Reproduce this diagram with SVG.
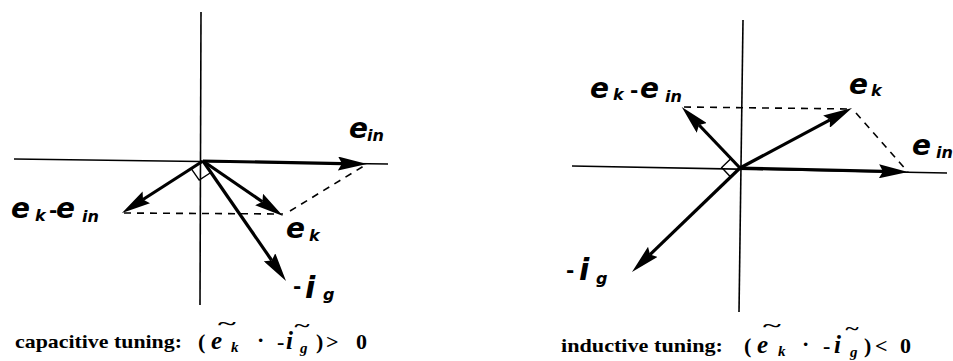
<svg xmlns="http://www.w3.org/2000/svg" width="953" height="361" viewBox="0 0 953 361">
<style>
.axis{stroke:#000;stroke-width:1.6;fill:none}
.vec{stroke:#000;stroke-width:3.2;fill:none;marker-end:url(#ah)}
.dash{stroke:#000;stroke-width:1.6;fill:none;stroke-dasharray:7 6}
.sq{stroke:#000;stroke-width:1.4;fill:none}
.lbl{font-family:"DejaVu Sans",sans-serif;font-weight:bold;font-style:italic;font-size:28px;fill:#000}
.sub{font-size:16px}
.dsh{font-style:normal;font-size:20px}
.cap{font-family:"Liberation Serif",serif;font-weight:bold;font-size:19px;fill:#000}
.mth{font-family:"Liberation Serif",serif;font-weight:bold;font-size:22px;fill:#000}
.mi{font-style:italic;font-size:25px}
.ms{font-size:15px;font-style:italic}
.tl{font-family:"Liberation Serif",serif;font-weight:bold;font-size:18px;fill:#000;text-anchor:middle}
</style>
<defs>
<marker id="ah" markerUnits="userSpaceOnUse" markerWidth="30" markerHeight="14" refX="4" refY="7" orient="auto">
<path d="M0,0 L29,7 L0,14 L4,7 Z" fill="#000"/>
</marker>
</defs>

<g id="left-axes">
<line class="axis" x1="201" y1="12" x2="200" y2="305"/>
<line class="axis" x1="14" y1="159" x2="388" y2="164"/>
</g>
<g id="connectors-left">
<line class="vec" x1="203" y1="161" x2="342" y2="163.6"/>
<line class="vec" x1="203" y1="161" x2="143" y2="199.5"/>
<line class="vec" x1="203" y1="161" x2="262.4" y2="201.8"/>
<line class="vec" x1="203" y1="161" x2="271.8" y2="260.5"/>
<line class="dash" x1="124" y1="213" x2="283" y2="214"/>
<line class="dash" x1="290" y1="211" x2="367" y2="164"/>
<polyline class="sq" points="191.2,168.6 199.2,180.1 210.9,172.5"/>
</g>
<g id="left-labels">
<text class="lbl" x="11" y="218">e</text>
<text class="lbl sub" x="35" y="221">k</text>
<text class="lbl dsh" x="49" y="217">-</text>
<text class="lbl" x="56" y="218">e</text>
<text class="lbl sub" x="82" y="222">in</text>
<text class="lbl" x="286" y="238">e</text>
<text class="lbl sub" x="309" y="241">k</text>
<text class="lbl dsh" x="293" y="293">-</text>
<text class="lbl" x="305" y="298" style="font-size:30px">i</text>
<text class="lbl sub" x="323" y="300">g</text>
<text class="lbl" x="349" y="138">e</text>
<text class="lbl sub" x="367" y="141">in</text>
</g>
<g id="left-caption">
<text class="cap" x="15" y="348" textLength="167" lengthAdjust="spacingAndGlyphs">capacitive tuning:</text>
<text class="mth" x="198" y="349">(</text>
<text class="mth mi" x="211" y="349">e</text>
<text class="mth ms" x="231" y="352">k</text>
<text class="mth" x="257" y="347">·</text>
<text class="mth" x="277" y="349">-</text>
<text class="mth mi" x="286" y="349">i</text>
<text class="mth ms" x="300" y="353">g</text>
<text class="mth" x="316" y="349">)</text>
<text class="mth" x="326" y="349">&gt;</text>
<text class="mth" x="356" y="349">0</text>
<text class="tl" transform="translate(227,330) scale(1.9,1)">~</text>
<text class="tl" transform="translate(302,332) scale(1.6,1)">~</text>
</g>

<g id="right-axes">
<line class="axis" x1="743" y1="20" x2="739" y2="312"/>
<line class="axis" x1="572" y1="166" x2="947" y2="173"/>
</g>
<g id="connectors-right">
<line class="vec" x1="740" y1="168" x2="883" y2="171.4"/>
<line class="vec" x1="740" y1="168" x2="830" y2="119.8"/>
<line class="vec" x1="740" y1="168" x2="699" y2="125"/>
<line class="vec" x1="740" y1="168" x2="650" y2="254.6"/>
<line class="dash" x1="684" y1="107" x2="852" y2="109"/>
<line class="dash" x1="856" y1="113" x2="908" y2="172"/>
<polyline class="sq" points="731,158.6 721.7,167.6 730.6,177"/>
</g>
<g id="right-labels">
<text class="lbl" x="590" y="98">e</text>
<text class="lbl sub" x="613" y="100">k</text>
<text class="lbl dsh" x="630" y="97">-</text>
<text class="lbl" x="640" y="98">e</text>
<text class="lbl sub" x="665" y="102">in</text>
<text class="lbl" x="849" y="94">e</text>
<text class="lbl sub" x="871" y="96">k</text>
<text class="lbl" x="912" y="155">e</text>
<text class="lbl sub" x="936" y="158">in</text>
<text class="lbl dsh" x="566" y="277">-</text>
<text class="lbl" x="579" y="280" style="font-size:30px">i</text>
<text class="lbl sub" x="596" y="284">g</text>
</g>
<g id="right-caption">
<text class="cap" x="561" y="352" textLength="162" lengthAdjust="spacingAndGlyphs">inductive tuning:</text>
<text class="mth" x="744" y="353">(</text>
<text class="mth mi" x="757" y="353">e</text>
<text class="mth ms" x="778" y="356">k</text>
<text class="mth" x="802" y="351">·</text>
<text class="mth" x="823" y="353">-</text>
<text class="mth mi" x="834" y="353">i</text>
<text class="mth ms" x="850" y="357">g</text>
<text class="mth" x="864" y="353">)</text>
<text class="mth" x="875" y="353">&lt;</text>
<text class="mth" x="900" y="353">0</text>
<text class="tl" transform="translate(772,332) scale(1.9,1)">~</text>
<text class="tl" transform="translate(852,335) scale(1.4,1)">~</text>
</g>
</svg>
